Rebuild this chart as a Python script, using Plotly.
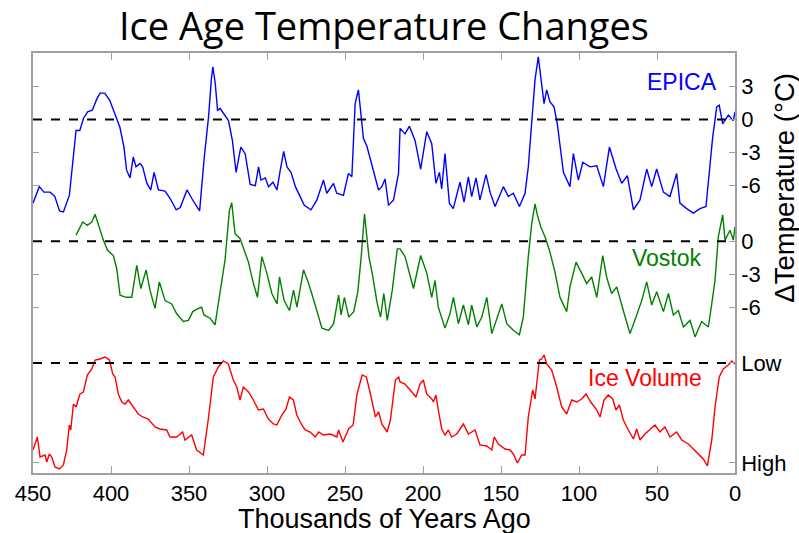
import plotly.graph_objects as go

# ---------------- data ----------------
epica_age = [450, 446, 443, 439, 436, 433, 430.5, 426.7, 422.4, 420, 417.7, 415, 412, 409, 407, 404, 400.8,
             397.5, 394.3, 391.7, 390, 387.8, 385.7, 384, 381.4, 379.7, 377, 374.5, 372.4, 369.6, 365.3, 362,
             358.2, 355.6, 351.3, 348.1, 343.2, 340.2, 337.5, 335.7, 334.7, 333.2, 331.7, 330, 327.5, 324.7,
             322.2, 319.8, 316.8, 314, 310.8, 307.5, 305.4, 303.9, 301.1, 299, 296.2, 293.6, 291.5, 289.3,
             287.2, 284.6, 281.8, 278.6, 276.1, 271.8, 268, 263.8, 261.7, 257.4, 255.3, 251, 247.8, 245.6,
             243.5, 241.4, 238.2, 236, 231.8, 228.5, 226.4, 224.3, 222.1, 218.9, 215.7, 214.7, 211.5, 208.7,
             205.1, 201.5, 197.6, 194.4, 191.7, 189.5, 188, 185.9, 183.1, 180.6, 176.3, 173.7, 170.9, 168.8,
             166, 163.5, 159.6, 157, 153.8, 148.5, 145.3, 142.1, 138.2, 134.6, 132.5, 129.7, 128.2, 126.1,
             123.9, 122.4, 120.7, 118.6, 116, 113.9, 110, 105.8, 103.6, 100.4, 97.6, 92.9, 88.6, 84.4, 80.5,
             76.2, 72.6, 69, 65.1, 60.9, 56.6, 53.4, 50.2, 45.9, 41.7, 37.4, 35.3, 31, 26.7, 22.4, 18.6, 16,
             14.3, 11.7, 10.1, 7.9, 4.3, 1.1, 0]
epica_temp = [-7.6, -6.1, -6.6, -6.6, -7.0, -8.3, -8.4, -6.9, -1.0, -1.0, 0.1, 0.7, 0.85, 1.9, 2.4, 2.4, 1.75,
              0.4, -0.7, -2.5, -4.6, -5.3, -3.4, -4.3, -4.0, -4.3, -5.8, -6.4, -4.8, -6.4, -6.5, -7.2,
              -8.2, -8.0, -6.4, -7.2, -8.3, -3.4, 0.2, 3.6, 4.8, 3.3, 0.85, 1.0, 0.5, -0.1,
              -1.9, -4.8, -2.5, -3.1, -5.9, -6.0, -4.3, -5.5, -5.3, -6.1, -5.7, -6.4, -4.6, -2.9,
              -4.3, -4.8, -6.1, -7.0, -7.8, -8.2, -7.3, -5.5, -6.7, -5.8, -6.7, -6.9, -4.9, -5.2,
              1.45, 2.7, -1.7, -2.4, -4.6, -6.4, -6.1, -5.4, -7.8, -7.3, -4.9, -0.8, -1.3, -0.6,
              -1.9, -4.5, -1.1, -2.2, -5.8, -4.8, -6.3, -3.1, -7.6, -8.1, -5.7, -7.5, -5.2, -7.0,
              -5.3, -7.3, -5.0, -6.6, -7.9, -6.1, -7.0, -6.7, -7.9, -6.7, -4.3, 0.7, 3.6, 5.7,
              3.0, 1.45, 2.7, 1.6, 1.15, -0.4, -4.8, -6.1, -3.1, -5.5, -3.9, -4.3, -4.2, -6.1, -2.5,
              -4.5, -5.8, -5.1, -8.2, -7.3, -4.5, -6.1, -4.5, -6.6, -7.0, -4.9, -7.6, -8.1, -8.5, -8.1, -7.9, -4.0,
              -1.6, 1.15, 1.3, -0.4, 0.4, -0.1, 0.7]

vostok_age = [422.4, 418.1, 415.2, 412.3, 410.2, 408.1, 404.9, 402.3, 398.5, 396.3, 394.2, 390.3, 386.7, 383.5,
              380.9, 377.5, 375, 371.8, 369, 365.3, 361.1, 357.9, 353.6, 350.4, 347.6, 344, 341.9, 340.4,
              336.5, 333.3, 330.1, 326.9, 324.1, 322.6, 320.5, 317.3, 311.9, 308.7, 306.1, 303.3, 300.1,
              296.9, 293.6, 292, 289, 285.6, 283, 280.8, 276.6, 273.3, 269.1, 264.8, 260.5, 257.3, 254.1,
              252.5, 250.4, 247.6, 244.4, 241.8, 239.6, 237.5, 234.7, 232.6, 229.3, 227.2, 225.1, 222.9,
              219.7, 216.5, 214.7, 211.5, 206.1, 201.5, 197.6, 194.4, 192.3, 190.2, 185.9, 182.7, 180.5,
              177.3, 174.1, 170.9, 168.8, 165.5, 162.3, 159.1, 155.9, 152.7, 149.5, 146.3, 142.1, 138.2,
              135.7, 132.5, 130.3, 128.2, 126.7, 124.5, 121.8, 119, 115.4, 112.2, 107.9, 105.8, 101.9, 98.3,
              95.1, 91.9, 88.6, 84.8, 82.3, 79.1, 75.8, 71.6, 67.3, 63, 59.8, 56.6, 53.4, 50.2, 45.9, 42.7,
              39.5, 36.3, 33.1, 28.8, 25.6, 21.4, 17.1, 14.9, 12.8, 10.7, 7.9, 6.4, 3.2, 1.1, 0]
vostok_temp = [0.55, 1.75, 1.45, 1.75, 2.45, 1.45, 0.1, -0.8, -1.3, -2.5, -4.9, -5.1, -5.1, -2.2,
               -4.3, -2.6, -4.45, -6.1, -3.7, -5.4, -5.7, -6.6, -7.3, -7.2, -6.4, -6.1, -6.0, -6.7,
               -7.0, -7.6, -4.45, -1.7, 2.8, 3.5, 0.7, 0.25, -1.9, -3.85, -5.1, -1.4, -2.9,
               -4.75, -5.7, -3.25, -5.4, -6.3, -4.45, -6.0, -2.6, -3.85, -5.8, -7.9, -8.1, -7.5, -4.9,
               -6.7, -5.1, -6.9, -6.4, -4.6, -1.4, 2.5, -1.4, -2.9, -5.7, -6.9, -4.75, -7.2,
               -4.45, -0.7, -0.7, -1.4, -4.3, -1.3, -2.9, -5.1, -3.55, -6.0, -7.9, -6.6, -5.1,
               -7.5, -5.8, -7.6, -5.8, -7.8, -6.9, -5.1, -8.4, -7.0, -5.7, -7.5, -8.1, -8.5,
               -6.9, -1.4, 1.6, 3.4, 2.4, 1.3, 0.4, -0.8, -2.8, -5.1, -6.4, -4.15, -1.9, -2.9,
               -3.85, -3.25, -5.1, -1.3, -3.25, -4.75, -4.15, -6.3, -8.4, -6.7, -5.4, -3.7, -5.8, -4.6, -6.4, -4.75,
               -6.7, -6.3, -7.8, -7.2, -8.7, -7.3, -7.8, -5.7, -3.55, 0.4, 2.4, 0.1, 1.0, 0.1, 1.3]

# relative ice volume: 0 = "Low" (dashed line), 1 = "High"
ice_age = [450, 447.2, 445.5, 442.3, 441.2, 439.5, 438, 435.9, 433.1, 430.5, 428.4, 426.7, 425.8, 424.1, 422.4,
           419.9, 417.7, 415.2, 412.3, 410.2, 407, 403.8, 401, 398.9, 397.4, 395.3, 393.1, 391, 388.9, 385.7,
           382.5, 379.7, 376.1, 371.8, 368.6, 364.3, 362.2, 357.9, 354.1, 352.6, 348.3, 345.1, 340.8, 337.6,
           334.4, 331.2, 328, 324.8, 321.6, 319.4, 317.3, 315.2, 311.9, 308.7, 305.5, 302.3, 299.1, 295.9,
           293.7, 290.5, 287.8, 285.6, 283.1, 280.9, 277.7, 275.5, 272.3, 269.1, 266.9, 263.8, 259.4, 255.2,
           254.1, 251.3, 247.7, 244.8, 242.3, 239, 236.3, 233.7, 230.5, 228.4, 226.4, 223, 220.9, 217.7,
           215.6, 214.7, 211.5, 207.2, 204.5, 201.9, 199.8, 197.6, 194.4, 193.3, 191.7, 190.2, 188, 185.9,
           183.7, 181.6, 178.4, 174.1, 170.9, 166.6, 163.5, 159.1, 155.9, 154.3, 151.7, 147.4, 144.2, 142.1,
           139.5, 136.7, 134.6, 132.5, 129.7, 128.2, 125.4, 123.9, 122.4, 120.7, 117.5, 114.3, 111.1, 107.9,
           104.7, 101.5, 98.3, 95.5, 92.5, 88.6, 86.5, 84, 81.2, 78.4, 76.3, 74.1, 71.6, 68.4, 65.1, 63,
           60.9, 57.7, 54.5, 51.3, 48.1, 44.9, 41.7, 37.4, 34.2, 29.9, 26.7, 23.5, 20.3, 17.7, 14.9, 12.8,
           10.1, 7.5, 4.3, 2.1, 0]
ice_volume = [0.87, 0.74, 0.94, 0.92, 0.99, 0.91, 0.94, 1.04, 1.06, 1.02, 0.87, 0.62, 0.67, 0.41, 0.44,
              0.31, 0.29, 0.12, 0.06, -0.03, -0.04, -0.06, -0.03, 0.11, 0.14, 0.31, 0.39, 0.41, 0.37, 0.44,
              0.51, 0.54, 0.56, 0.64, 0.66, 0.67, 0.74, 0.74, 0.69, 0.77, 0.72, 0.87, 0.92, 0.56,
              0.14, 0.04, -0.02, 0.01, 0.17, 0.24, 0.37, 0.24, 0.29, 0.37, 0.47, 0.46, 0.56, 0.61,
              0.62, 0.52, 0.46, 0.34, 0.37, 0.52, 0.62, 0.67, 0.69, 0.74, 0.69, 0.72, 0.71, 0.74,
              0.67, 0.79, 0.66, 0.62, 0.31, 0.12, 0.14, 0.31, 0.54, 0.49, 0.61, 0.69, 0.57, 0.17,
              0.14, 0.19, 0.21, 0.29, 0.34, 0.21, 0.17, 0.31, 0.36, 0.39, 0.32, 0.47, 0.66, 0.72,
              0.67, 0.74, 0.71, 0.61, 0.71, 0.67, 0.82, 0.83, 0.87, 0.74, 0.81, 0.86, 0.87, 0.91,
              1.0, 0.92, 0.92, 0.54, 0.27, 0.36, -0.03, -0.04, -0.08, 0.01, 0.07, 0.24, 0.44, 0.51,
              0.37, 0.39, 0.36, 0.31, 0.39, 0.47, 0.54, 0.37, 0.32, 0.36, 0.47, 0.42, 0.57, 0.67, 0.76, 0.66,
              0.77, 0.71, 0.66, 0.62, 0.69, 0.64, 0.74, 0.69, 0.77, 0.81, 0.86, 0.91, 0.96, 1.03, 0.77, 0.44,
              0.14, 0.06, 0.02, -0.02, 0.01]

x_tick_vals = [450, 400, 350, 300, 250, 200, 150, 100, 50, 0]
epica_ticks = [3, 0, -3, -6]
vostok_ticks = [0, -3, -6]
ice_tick_text = ["Low", "High"]

# stacking of the three panels on one vertical scale (°C units)
VOSTOK_OFFSET = -11.06
ICE_LOW = -22.13
ICE_SPAN = 9.09

vostok_y = [t + VOSTOK_OFFSET for t in vostok_temp]
ice_y = [ICE_LOW - v * ICE_SPAN for v in ice_volume]

tick_vals = epica_ticks + [t + VOSTOK_OFFSET for t in vostok_ticks] + [ICE_LOW, ICE_LOW - ICE_SPAN]
tick_text = [str(t) for t in epica_ticks] + [str(t) for t in vostok_ticks] + ice_tick_text

AX = "#a0a0a0"
FONT = "Liberation Sans, Arial, sans-serif"

fig = go.Figure()
fig.add_trace(go.Scatter(x=epica_age, y=epica_temp, mode="lines", line=dict(color="#0000ff", width=1.4),
                         name="EPICA"))
fig.add_trace(go.Scatter(x=vostok_age, y=vostok_y, mode="lines", line=dict(color="#008000", width=1.4),
                         name="Vostok"))
fig.add_trace(go.Scatter(x=ice_age, y=ice_y, mode="lines", line=dict(color="#ff0000", width=1.4),
                         name="Ice Volume"))

for yv in [0, VOSTOK_OFFSET, ICE_LOW]:
    fig.add_shape(type="line", xref="paper", x0=0, x1=1, yref="y", y0=yv, y1=yv,
                  line=dict(color="black", width=2, dash="dash"), layer="above")

fig.update_layout(
    width=799, height=533,
    margin=dict(l=33, r=64, t=53, b=60, autoexpand=False),
    paper_bgcolor="white", plot_bgcolor="white",
    showlegend=False,
    font=dict(family=FONT, color="black"),
    xaxis=dict(range=[450, 0], tickvals=x_tick_vals, ticks="inside", ticklen=7, tickcolor=AX,
               showline=True, linecolor=AX, linewidth=1.5, mirror="ticks", showgrid=False, zeroline=False,
               automargin=False, tickfont=dict(family=FONT, size=22, color="black")),
    yaxis=dict(range=[-32.13, 6.05], side="right", tickvals=tick_vals, ticktext=tick_text, ticks="inside",
               ticklen=6, tickcolor=AX, showline=True, linecolor=AX, linewidth=1.5, mirror="ticks",
               showgrid=False, zeroline=False, automargin=False,
               tickfont=dict(family=FONT, size=22, color="black")),
)

fig.add_annotation(text="Ice Age Temperature Changes", xref="paper", yref="paper", x=0.5, y=1.0667,
                   xanchor="center", yanchor="middle", showarrow=False,
                   font=dict(family="Open Sans, sans-serif", size=38, color="black"))
fig.add_annotation(text="Thousands of Years Ago", xref="paper", yref="paper", x=0.5, y=-0.1095,
                   xanchor="center", yanchor="middle", showarrow=False,
                   font=dict(family=FONT, size=27, color="black"))
fig.add_annotation(text="ΔTemperature (°C)", xref="paper", yref="paper", x=1.071, y=0.679,
                   xanchor="center", yanchor="middle", textangle=-90, showarrow=False,
                   font=dict(family=FONT, size=27.5, color="black"))
fig.add_annotation(text="EPICA", xref="paper", yref="paper", x=0.977, y=0.931, xanchor="right",
                   yanchor="middle", showarrow=False, font=dict(family=FONT, size=23, color="#0000ff"))
fig.add_annotation(text="Vostok", xref="paper", yref="paper", x=0.956, y=0.512, xanchor="right",
                   yanchor="middle", showarrow=False, font=dict(family=FONT, size=23, color="#008000"))
fig.add_annotation(text="Ice Volume", xref="paper", yref="paper", x=0.956, y=0.226, xanchor="right",
                   yanchor="middle", showarrow=False, font=dict(family=FONT, size=23, color="#ff0000"))

fig.write_html("out.html", config={"displayModeBar": False},
               post_script="document.body.style.margin='0';document.body.style.padding='0';"
                           "document.body.style.overflow='hidden';")
